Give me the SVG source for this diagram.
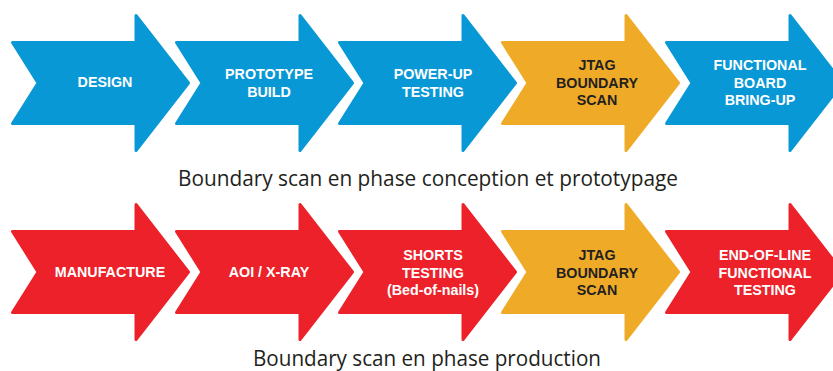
<svg xmlns="http://www.w3.org/2000/svg" width="833" height="371" viewBox="0 0 833 371">
<defs>
<style>
.arr{stroke-width:3;stroke-linejoin:round}
.blue{fill:#0898d6;stroke:#0898d6}
.red{fill:#ec2129;stroke:#ec2129}
.orange{fill:#efab27;stroke:#efab27}
.lbl{font-family:"Liberation Sans",Arial,sans-serif;font-weight:bold;font-size:14.3px;text-anchor:middle;fill:#ffffff}
.dark{fill:#231f20}
.cap{font-family:"Open Sans","Noto Sans",sans-serif;font-size:22px;fill:#231f20}
</style>
<polygon id="arrowTop" points="1.5,42.5 125,42.5 125,15.5 177.5,83 125,150.5 125,123.5 1.5,123.5 27,83"/>
</defs>
<rect width="833" height="371" fill="#ffffff"/>
<g id="row1">
<g id="design"><use href="#arrowTop" class="arr blue" x="11"/><text class="lbl" x="105" y="87">DESIGN</text></g>
<g id="prototype"><use href="#arrowTop" class="arr blue" x="175"/><text class="lbl" x="269" y="79">PROTOTYPE</text><text class="lbl" x="269" y="96.5">BUILD</text></g>
<g id="powerup"><use href="#arrowTop" class="arr blue" x="338"/><text class="lbl" x="433" y="79">POWER-UP</text><text class="lbl" x="433" y="96.5">TESTING</text></g>
<g id="jtag1"><use href="#arrowTop" class="arr orange" x="501"/><text class="lbl dark" x="597" y="70">JTAG</text><text class="lbl dark" x="597" y="87.5">BOUNDARY</text><text class="lbl dark" x="597" y="105">SCAN</text></g>
<g id="functional"><use href="#arrowTop" class="arr blue" x="665"/><text class="lbl" x="760" y="70">FUNCTIONAL</text><text class="lbl" x="760" y="87.5">BOARD</text><text class="lbl" x="760" y="105">BRING-UP</text></g>
</g>
<text id="caption1" class="cap" x="428" y="186" text-anchor="middle" textLength="500" lengthAdjust="spacingAndGlyphs">Boundary scan en phase conception et prototypage</text>
<g id="row2">
<g id="manufacture"><use href="#arrowTop" class="arr red" x="11" y="189"/><text class="lbl" x="110" y="277">MANUFACTURE</text></g>
<g id="aoi"><use href="#arrowTop" class="arr red" x="175" y="189"/><text class="lbl" x="269" y="277">AOI / X-RAY</text></g>
<g id="shorts"><use href="#arrowTop" class="arr red" x="338" y="189"/><text class="lbl" x="433" y="259.5">SHORTS</text><text class="lbl" x="433" y="277.5">TESTING</text><text class="lbl" x="433" y="295">(Bed-of-nails)</text></g>
<g id="jtag2"><use href="#arrowTop" class="arr orange" x="501" y="189"/><text class="lbl dark" x="597" y="260">JTAG</text><text class="lbl dark" x="597" y="277.5">BOUNDARY</text><text class="lbl dark" x="597" y="295">SCAN</text></g>
<g id="endofline"><use href="#arrowTop" class="arr red" x="665" y="189"/><text class="lbl" x="765" y="260">END-OF-LINE</text><text class="lbl" x="765" y="277.5">FUNCTIONAL</text><text class="lbl" x="765" y="295">TESTING</text></g>
</g>
<text id="caption2" class="cap" x="427" y="365.5" text-anchor="middle" textLength="348" lengthAdjust="spacingAndGlyphs">Boundary scan en phase production</text>
<g id="connectors"></g>
</svg>
